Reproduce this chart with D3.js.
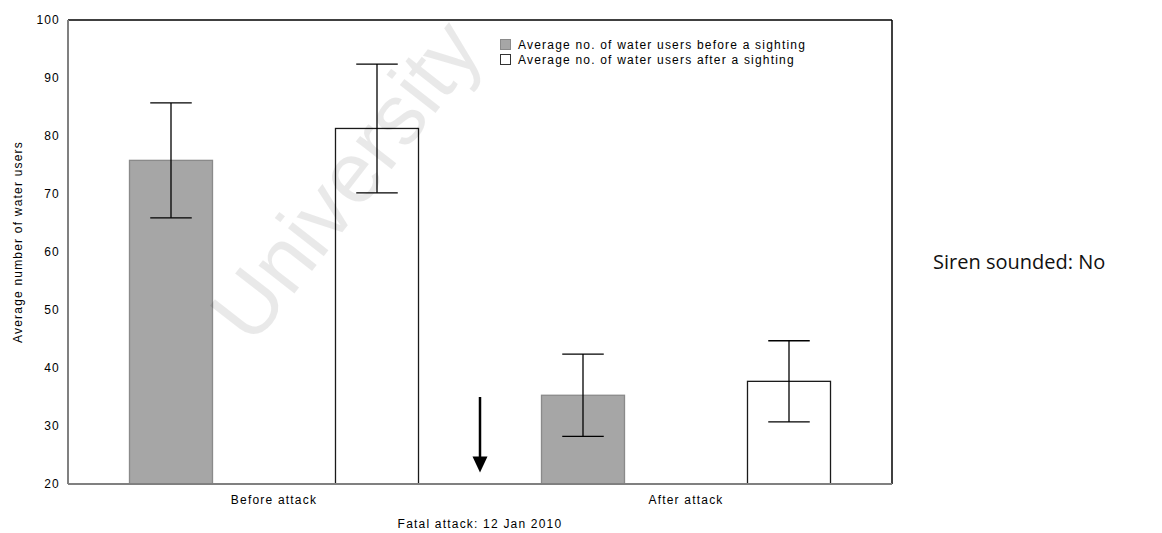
<!DOCTYPE html>
<html>
<head>
<meta charset="utf-8">
<script src="https://cdn.jsdelivr.net/npm/d3@7"></script>
<style>
  html, body { margin: 0; padding: 0; background: #fff; }
  svg { display: block; }
  .lbl { font-family: "Liberation Sans", Arial, sans-serif; font-size: 12px; letter-spacing: 1.2px; fill: #000; }
</style>
</head>
<body>
<svg id="chart" width="1162" height="533"></svg>
<script>
// ---- data ----
const categories = ["Before attack", "After attack"];
const seriesKeys = ["before", "after"];
const seriesNames = ["Average no. of water users before a sighting", "Average no. of water users after a sighting"];
const beforeSighting = [75.8, 35.3];
const afterSighting = [81.3, 37.7];
const beforeSightingErr = [9.9, 7.1];
const afterSightingErr = [11.1, 7.0];
const yTicks = [20, 30, 40, 50, 60, 70, 80, 90, 100];
const yDomain = [20, 100];
const arrowFromTo = [35, 22];
const yTitle = "Average number of water users";
const xTitle = "Fatal attack: 12 Jan 2010";
const sideNote = "Siren sounded: No";
const watermark = "University";

// ---- layout ----
const svg = d3.select("#chart");
const pLeft = 68, pRight = 892, pTop = 20, pBottom = 484;

const x0 = d3.scaleBand().domain(categories).range([pLeft, pRight]);
const x1 = d3.scaleBand().domain(seriesKeys).range([0, x0.bandwidth()]).paddingInner(0.597).paddingOuter(0.2985);
const y = d3.scaleLinear().domain(yDomain).range([pBottom, pTop]);

const fills = { before: "#a6a6a6", after: "#ffffff" };
const strokes = { before: "#8a8a8a", after: "#1a1a1a" };

const rows = [];
categories.forEach((c, i) => {
  rows.push({ cat: c, key: "before", v: beforeSighting[i], e: beforeSightingErr[i] });
  rows.push({ cat: c, key: "after", v: afterSighting[i], e: afterSightingErr[i] });
});

// bars
svg.append("g").selectAll("rect").data(rows).join("rect")
  .attr("x", d => x0(d.cat) + x1(d.key))
  .attr("y", d => y(d.v))
  .attr("width", x1.bandwidth())
  .attr("height", d => y(yDomain[0]) - y(d.v))
  .attr("fill", d => fills[d.key])
  .attr("stroke", d => strokes[d.key])
  .attr("stroke-width", 1.3);

// error bars
const eg = svg.append("g").attr("stroke", "#000").attr("stroke-width", 1.3);
const capW = x1.bandwidth() / 2;
rows.forEach(d => {
  const cx = x0(d.cat) + x1(d.key) + x1.bandwidth() / 2;
  eg.append("line").attr("x1", cx).attr("x2", cx).attr("y1", y(d.v + d.e)).attr("y2", y(d.v - d.e));
  eg.append("line").attr("x1", cx - capW / 2).attr("x2", cx + capW / 2).attr("y1", y(d.v + d.e)).attr("y2", y(d.v + d.e));
  eg.append("line").attr("x1", cx - capW / 2).attr("x2", cx + capW / 2).attr("y1", y(d.v - d.e)).attr("y2", y(d.v - d.e));
});

// frame
svg.append("line").attr("x1", pLeft).attr("x2", pRight).attr("y1", pTop).attr("y2", pTop).attr("stroke", "#000").attr("stroke-width", 1.5);
svg.append("line").attr("x1", pRight).attr("x2", pRight).attr("y1", pTop).attr("y2", pBottom).attr("stroke", "#000").attr("stroke-width", 1.5);
svg.append("line").attr("x1", pLeft).attr("x2", pLeft).attr("y1", pTop).attr("y2", pBottom).attr("stroke", "#808080").attr("stroke-width", 2);
svg.append("line").attr("x1", pLeft).attr("x2", pRight).attr("y1", pBottom).attr("y2", pBottom).attr("stroke", "#808080").attr("stroke-width", 2);

// y axis labels
const yAxis = d3.axisLeft(y).tickValues(yTicks).tickSize(0).tickPadding(8).tickFormat(d3.format("d"));
const yg = svg.append("g").attr("transform", `translate(${pLeft},0)`).call(yAxis);
yg.select(".domain").remove();
yg.attr("font-family", null).attr("font-size", null);
yg.selectAll("text").attr("class", "lbl");

// x axis labels
const xAxis = d3.axisBottom(x0).tickSize(0).tickPadding(11);
const xg = svg.append("g").attr("transform", `translate(0,${pBottom})`).call(xAxis);
xg.select(".domain").remove();
xg.attr("font-family", null).attr("font-size", null);
xg.selectAll("text").attr("class", "lbl");

// titles
svg.append("text").attr("class", "lbl")
  .attr("transform", `translate(18,242) rotate(-90)`)
  .attr("text-anchor", "middle").attr("dy", "0.35em").text(yTitle);
svg.append("text").attr("class", "lbl")
  .attr("x", (pLeft + pRight) / 2).attr("y", 528)
  .attr("text-anchor", "middle").text(xTitle);

// arrow
const ax = x0(categories[1]);
const tipY = y(arrowFromTo[1]);
const headH = 16, headW = 15;
svg.append("line").attr("x1", ax).attr("x2", ax).attr("y1", y(arrowFromTo[0])).attr("y2", tipY - headH + 2)
  .attr("stroke", "#000").attr("stroke-width", 2.5);
svg.append("path")
  .attr("d", `M${ax - headW / 2},${tipY - headH} L${ax + headW / 2},${tipY - headH} L${ax},${tipY} Z`)
  .attr("fill", "#000");

// legend
const lg = svg.append("g");
seriesKeys.forEach((k, i) => {
  const ly = 39.5 + i * 15;
  lg.append("rect").attr("x", 500.5).attr("y", ly).attr("width", 10).attr("height", 10)
    .attr("fill", fills[k]).attr("stroke", k === "before" ? "#8a8a8a" : "#333").attr("stroke-width", 1);
  lg.append("text").attr("class", "lbl").attr("x", 518).attr("y", ly + 9).text(seriesNames[i]);
});

// side note
svg.append("text")
  .attr("x", 933).attr("y", 269)
  .attr("font-family", "'Open Sans', 'Noto Sans', sans-serif").attr("font-size", 20)
  .attr("fill", "#111").text(sideNote);

// watermark
svg.append("text")
  .attr("transform", "translate(345,180) rotate(-52)")
  .attr("text-anchor", "middle").attr("dy", "0.35em")
  .attr("font-family", "'Liberation Sans', Arial, sans-serif").attr("font-size", 86)
  .attr("fill", "#000").attr("fill-opacity", 0.085)
  .text(watermark);
</script>
</body>
</html>
